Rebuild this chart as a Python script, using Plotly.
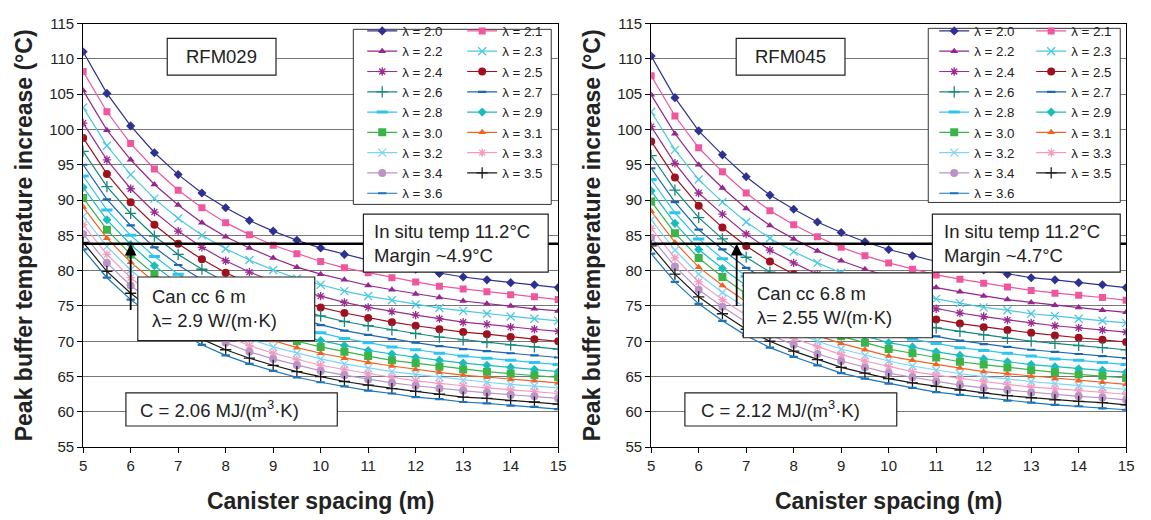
import plotly.graph_objects as go

# Canister spacing (m) at which the peak buffer temperature was evaluated
spacing = [5.0, 5.5, 6.0, 6.5, 7.0, 7.5, 8.0, 8.5, 9.0, 9.5, 10.0,
           10.5, 11.0, 11.5, 12.0, 12.5, 13.0, 13.5, 14.0, 14.5, 15.0]

# Rock thermal conductivity of each curve, W/(m·K)
lambda_labels = ["2.0", "2.1", "2.2", "2.3", "2.4", "2.5", "2.6", "2.7", "2.8",
                 "2.9", "3.0", "3.1", "3.2", "3.3", "3.4", "3.5", "3.6"]

# RFM029 – peak buffer temperature increase (°C)
rfm029_l20 = [111.0, 105.1, 100.5, 96.7, 93.6, 91.0, 88.9, 87.1, 85.6, 84.3, 83.2, 82.3, 81.5, 80.8, 80.2, 79.6, 79.1, 78.7, 78.3, 78.0, 77.6]
rfm029_l21 = [108.2, 102.5, 98.0, 94.4, 91.4, 88.9, 86.8, 85.1, 83.6, 82.4, 81.3, 80.4, 79.7, 79.0, 78.4, 77.8, 77.4, 77.0, 76.6, 76.3, 75.9]
rfm029_l22 = [105.5, 99.9, 95.7, 92.2, 89.3, 86.8, 84.8, 83.2, 81.8, 80.5, 79.5, 78.7, 77.9, 77.3, 76.7, 76.2, 75.7, 75.3, 75.0, 74.6, 74.3]
rfm029_l23 = [103.1, 97.7, 93.6, 90.2, 87.4, 85.0, 83.1, 81.5, 80.1, 78.9, 78.0, 77.1, 76.4, 75.8, 75.2, 74.7, 74.3, 73.9, 73.5, 73.2, 72.9]
rfm029_l24 = [100.9, 95.7, 91.6, 88.3, 85.6, 83.3, 81.4, 79.8, 78.5, 77.3, 76.4, 75.5, 74.8, 74.2, 73.7, 73.2, 72.7, 72.4, 72.0, 71.7, 71.4]
rfm029_l25 = [98.8, 93.7, 89.7, 86.5, 83.8, 81.6, 79.7, 78.2, 76.9, 75.8, 74.8, 74.0, 73.3, 72.7, 72.2, 71.7, 71.3, 71.0, 70.6, 70.3, 70.0]
rfm029_l26 = [96.9, 91.9, 88.1, 84.9, 82.3, 80.2, 78.4, 76.9, 75.6, 74.5, 73.6, 72.8, 72.2, 71.6, 71.1, 70.6, 70.2, 69.8, 69.5, 69.2, 68.9]
rfm029_l27 = [95.0, 90.1, 86.4, 83.3, 80.8, 78.7, 76.9, 75.5, 74.2, 73.2, 72.3, 71.5, 70.9, 70.3, 69.8, 69.3, 68.9, 68.6, 68.3, 68.0, 67.7]
rfm029_l28 = [93.4, 88.6, 85.0, 82.0, 79.5, 77.4, 75.7, 74.3, 73.1, 72.0, 71.2, 70.4, 69.8, 69.2, 68.8, 68.3, 67.9, 67.6, 67.3, 67.0, 66.7]
rfm029_l29 = [91.8, 87.2, 83.7, 80.7, 78.2, 76.2, 74.5, 73.1, 71.9, 70.9, 70.1, 69.4, 68.7, 68.2, 67.7, 67.3, 66.9, 66.6, 66.3, 66.0, 65.7]
rfm029_l30 = [90.3, 85.8, 82.3, 79.5, 77.1, 75.1, 73.5, 72.1, 71.0, 70.0, 69.2, 68.5, 67.9, 67.3, 66.9, 66.4, 66.0, 65.7, 65.4, 65.2, 64.9]
rfm029_l31 = [89.0, 84.6, 81.2, 78.4, 76.1, 74.1, 72.5, 71.2, 70.1, 69.1, 68.3, 67.6, 67.0, 66.5, 66.0, 65.6, 65.2, 64.9, 64.6, 64.4, 64.1]
rfm029_l32 = [87.7, 83.4, 80.1, 77.3, 75.1, 73.2, 71.6, 70.3, 69.2, 68.3, 67.5, 66.8, 66.2, 65.7, 65.3, 64.9, 64.5, 64.2, 63.9, 63.7, 63.4]
rfm029_l33 = [86.5, 82.3, 79.0, 76.3, 74.1, 72.2, 70.7, 69.4, 68.3, 67.4, 66.6, 66.0, 65.4, 64.9, 64.4, 64.0, 63.7, 63.4, 63.1, 62.9, 62.6]
rfm029_l34 = [85.2, 81.1, 77.9, 75.3, 73.1, 71.3, 69.8, 68.5, 67.5, 66.6, 65.8, 65.2, 64.6, 64.1, 63.7, 63.3, 63.0, 62.7, 62.4, 62.2, 61.9]
rfm029_l35 = [84.0, 79.9, 76.8, 74.2, 72.1, 70.3, 68.8, 67.6, 66.6, 65.7, 65.0, 64.3, 63.8, 63.3, 62.9, 62.5, 62.1, 61.9, 61.6, 61.4, 61.1]
rfm029_l36 = [83.0, 79.0, 75.9, 73.4, 71.3, 69.5, 68.0, 66.8, 65.8, 64.9, 64.2, 63.6, 63.0, 62.6, 62.1, 61.8, 61.4, 61.2, 60.9, 60.7, 60.4]

# RFM045 – peak buffer temperature increase (°C)
rfm045_l20 = [110.4, 104.5, 99.8, 96.4, 93.3, 90.7, 88.7, 86.9, 85.4, 84.1, 83.0, 82.1, 81.3, 80.7, 80.1, 79.5, 79.0, 78.7, 78.3, 78.0, 77.6]
rfm045_l21 = [107.6, 101.9, 97.4, 94.0, 91.0, 88.5, 86.5, 84.8, 83.3, 82.1, 81.1, 80.2, 79.4, 78.8, 78.2, 77.7, 77.2, 76.8, 76.5, 76.2, 75.8]
rfm045_l22 = [104.9, 99.4, 95.0, 91.7, 88.8, 86.4, 84.5, 82.8, 81.4, 80.2, 79.2, 78.4, 77.6, 77.0, 76.4, 75.9, 75.5, 75.1, 74.8, 74.4, 74.1]
rfm045_l23 = [102.5, 97.1, 92.9, 89.7, 86.9, 84.6, 82.7, 81.1, 79.7, 78.5, 77.5, 76.7, 76.0, 75.4, 74.8, 74.4, 73.9, 73.6, 73.2, 72.9, 72.6]
rfm045_l24 = [100.4, 95.2, 91.0, 88.0, 85.2, 82.9, 81.1, 79.5, 78.2, 77.1, 76.1, 75.3, 74.6, 74.0, 73.5, 73.0, 72.6, 72.2, 71.9, 71.6, 71.3]
rfm045_l25 = [98.3, 93.2, 89.2, 86.1, 83.5, 81.3, 79.5, 77.9, 76.6, 75.5, 74.6, 73.8, 73.1, 72.5, 72.0, 71.6, 71.2, 70.8, 70.5, 70.2, 69.9]
rfm045_l26 = [96.3, 91.4, 87.5, 84.5, 81.9, 79.8, 78.1, 76.6, 75.3, 74.3, 73.3, 72.6, 71.9, 71.4, 70.9, 70.4, 70.0, 69.7, 69.4, 69.1, 68.8]
rfm045_l27 = [94.5, 89.7, 85.8, 83.0, 80.4, 78.4, 76.7, 75.2, 74.0, 72.9, 72.0, 71.3, 70.7, 70.1, 69.6, 69.2, 68.8, 68.5, 68.2, 67.9, 67.6]
rfm045_l28 = [92.9, 88.2, 84.5, 81.7, 79.2, 77.2, 75.5, 74.1, 72.9, 71.9, 71.0, 70.3, 69.7, 69.1, 68.7, 68.3, 67.9, 67.5, 67.3, 67.0, 66.7]
rfm045_l29 = [91.3, 86.7, 83.0, 80.3, 77.9, 75.9, 74.3, 72.9, 71.7, 70.7, 69.8, 69.2, 68.5, 68.0, 67.5, 67.1, 66.7, 66.4, 66.1, 65.9, 65.6]
rfm045_l30 = [89.8, 85.3, 81.8, 79.1, 76.7, 74.8, 73.2, 71.9, 70.7, 69.8, 68.9, 68.3, 67.7, 67.1, 66.7, 66.3, 65.9, 65.6, 65.3, 65.1, 64.8]
rfm045_l31 = [88.4, 84.0, 80.5, 77.9, 75.6, 73.7, 72.2, 70.8, 69.7, 68.8, 67.9, 67.3, 66.7, 66.2, 65.7, 65.4, 65.0, 64.7, 64.4, 64.2, 63.9]
rfm045_l32 = [87.2, 82.9, 79.5, 76.9, 74.7, 72.8, 71.3, 70.0, 68.9, 68.0, 67.2, 66.5, 65.9, 65.4, 65.0, 64.6, 64.3, 64.0, 63.7, 63.5, 63.2]
rfm045_l33 = [86.0, 81.8, 78.4, 75.9, 73.7, 71.9, 70.4, 69.2, 68.1, 67.2, 66.4, 65.7, 65.2, 64.7, 64.3, 63.9, 63.5, 63.3, 63.0, 62.8, 62.5]
rfm045_l34 = [84.7, 80.6, 77.3, 74.9, 72.7, 70.9, 69.5, 68.2, 67.2, 66.3, 65.5, 64.9, 64.3, 63.8, 63.4, 63.1, 62.7, 62.4, 62.2, 62.0, 61.7]
rfm045_l35 = [83.5, 79.5, 76.3, 73.9, 71.7, 70.0, 68.6, 67.4, 66.3, 65.5, 64.7, 64.1, 63.6, 63.1, 62.7, 62.3, 62.0, 61.7, 61.5, 61.3, 61.0]
rfm045_l36 = [82.4, 78.4, 75.3, 72.9, 70.8, 69.1, 67.8, 66.6, 65.5, 64.7, 64.0, 63.4, 62.8, 62.4, 62.0, 61.6, 61.3, 61.0, 60.8, 60.5, 60.3]

# Design criterion and site data per repository model
panel_names = ["RFM029", "RFM045"]
temp_limit = 95.0                 # °C
in_situ_temp = [11.2, 11.2]       # °C
margin = [4.9, 4.7]               # °C
design_spacing = [6.0, 6.8]       # m
design_lambda = ["2.9", "2.55"]   # W/(m·K)
heat_capacity = ["2.06", "2.12"]  # MJ/(m³·K)
arrow_base = [74.2, 74.8]         # °C

rfm029 = [rfm029_l20, rfm029_l21, rfm029_l22, rfm029_l23, rfm029_l24, rfm029_l25,
          rfm029_l26, rfm029_l27, rfm029_l28, rfm029_l29, rfm029_l30, rfm029_l31,
          rfm029_l32, rfm029_l33, rfm029_l34, rfm029_l35, rfm029_l36]
rfm045 = [rfm045_l20, rfm045_l21, rfm045_l22, rfm045_l23, rfm045_l24, rfm045_l25,
          rfm045_l26, rfm045_l27, rfm045_l28, rfm045_l29, rfm045_l30, rfm045_l31,
          rfm045_l32, rfm045_l33, rfm045_l34, rfm045_l35, rfm045_l36]

# ---- styling -------------------------------------------------------------
colors = ["#2E3192", "#F0569B", "#92278F", "#4CC8E0", "#9B2D92", "#A0101E",
          "#17877C", "#1D67B2", "#2EC4F0", "#1BBCBC", "#39B54A", "#F26322",
          "#7FD3F7", "#F59AC0", "#BB93C6", "#1A1A1A", "#1B75BC"]
symbols = ["diamond", "square", "triangle-up", "x-thin-open", "asterisk-open",
           "circle", "cross-thin-open", "line-ew-open", "line-ew-open", "diamond",
           "square", "triangle-up", "x-thin-open", "asterisk-open", "circle",
           "cross-thin-open", "line-ew-open"]
sizes = [7, 7, 7, 8, 7, 8, 8, 6, 8, 7, 8, 7, 8, 7, 8, 8, 6]
mline = [0, 0, 0, 1.3, 1.3, 0, 1.3, 2.2, 3.0, 0, 0, 0, 1.3, 1.3, 0, 1.3, 2.2]

FONT = "Liberation Sans, Arial, sans-serif"
W, H = 1151, 520
plot_top, plot_bottom = 15, 453
panel_px = [(80, 560), (654, 1134)]

fig = go.Figure()

legend_cols = [("legend", "legend2"), ("legend3", "legend4")]
for p, data in enumerate([rfm029, rfm045]):
    xa = "x" if p == 0 else "x2"
    ya = "y" if p == 0 else "y2"
    for i, (lab, vals) in enumerate(zip(lambda_labels, data)):
        fig.add_trace(go.Scatter(
            x=spacing, y=vals, mode="lines+markers",
            name="\u03bb = " + lab,
            line=dict(color=colors[i], width=1.2),
            marker=dict(symbol=symbols[i], size=sizes[i], color=colors[i],
                        line=dict(color=colors[i], width=mline[i])),
            xaxis=xa, yaxis=ya,
            legend=legend_cols[p][i % 2],
        ))
    # allowable temperature increase = limit - in situ rock temperature
    lim = temp_limit - in_situ_temp[p]
    fig.add_trace(go.Scatter(
        x=[spacing[0], spacing[-1]], y=[lim, lim], mode="lines",
        line=dict(color="black", width=2.6), showlegend=False,
        xaxis=xa, yaxis=ya, hoverinfo="skip"))

axis_common = dict(
    showline=True, linecolor="black", linewidth=1, mirror=True,
    ticks="outside", ticklen=5, tickcolor="black",
    tickfont=dict(family=FONT, size=15, color="#222"),
    title_font=dict(family=FONT, size=23, color="#222"),
)
for p in range(2):
    x0, x1 = panel_px[p]
    sfx = "" if p == 0 else "2"
    fig.layout["xaxis" + sfx] = dict(
        axis_common, domain=[x0 / W, x1 / W], range=[5, 15], dtick=1,
        showgrid=False, zeroline=False, anchor="y" + sfx,
        title=dict(text="<b>Canister spacing (m)</b>", standoff=19),
    )
    fig.layout["yaxis" + sfx] = dict(
        axis_common, domain=[1 - plot_bottom / H, 1 - plot_top / H],
        range=[55, 115], dtick=5, showgrid=True, gridcolor="#777",
        gridwidth=1, zeroline=False, anchor="x" + sfx,
        title=dict(text="<b>Peak buffer temperature increase (°C)</b>", standoff=10),
    )

# legend boxes (two columns each)
legend_boxes = [(353, 553, 21, 202), (934, 1128, 20, 200)]
legend_x = [(362, 463), (940, 1038)]
for p in range(2):
    bx0, bx1, by0, by1 = legend_boxes[p]
    fig.add_shape(type="rect", xref="paper", yref="paper",
                  x0=bx0 / W, x1=bx1 / W, y0=1 - by1 / H, y1=1 - by0 / H,
                  line=dict(color="#333", width=1), fillcolor="white", layer="above")
    for c in range(2):
        fig.layout[legend_cols[p][c]] = dict(
            x=legend_x[p][c] / W, y=1 - 7 / H, xanchor="left", yanchor="top",
            bgcolor="rgba(0,0,0,0)", borderwidth=0, tracegroupgap=0,
            font=dict(family=FONT, size=13.3, color="#222"), itemwidth=30,
        )

# text boxes: (x0, x1, y0, y1, text x, text y, anchor, text)
TXT = dict(family=FONT, size=18.5, color="#222")
boxes = [
    [(6.77, 9.06, 107.7, 112.9, 7.92, 110.3, "center", panel_names[0]),
     (10.9, 14.79, 79.8, 88.0, 11.09, 83.9, "left",
      f"In situ temp {in_situ_temp[0]}°C<br>Margin ~{margin[0]}°C"),
     (6.15, 9.875, 70.1, 79.1, 6.41, 74.6, "left",
      f"Can cc {design_spacing[0]:g} m<br>\u03bb= {design_lambda[0]} W/(m·K)"),
     (5.9, 10.35, 58.0, 62.7, 6.15, 60.35, "left",
      f"C = {heat_capacity[0]} MJ/(m<sup>3</sup>·K)")],
    [(6.79, 9.08, 107.7, 112.9, 7.94, 110.3, "center", panel_names[1]),
     (10.92, 14.875, 79.8, 88.0, 11.125, 83.9, "left",
      f"In situ temp {in_situ_temp[1]}°C<br>Margin ~{margin[1]}°C"),
     (6.94, 10.92, 70.5, 79.7, 7.19, 75.1, "left",
      f"Can cc {design_spacing[1]:g} m<br>\u03bb= {design_lambda[1]} W/(m·K)"),
     (5.71, 10.17, 58.0, 62.7, 6.01, 60.35, "left",
      f"C = {heat_capacity[1]} MJ/(m<sup>3</sup>·K)")],
]
for p in range(2):
    xr = "x" if p == 0 else "x2"
    yr = "y" if p == 0 else "y2"
    for (x0, x1, y0, y1, tx, ty, anc, txt) in boxes[p]:
        fig.add_shape(type="rect", xref=xr, yref=yr, x0=x0, x1=x1, y0=y0, y1=y1,
                      line=dict(color="#222", width=1.2), fillcolor="white",
                      layer="above")
        fig.add_annotation(x=tx, y=ty, xref=xr, yref=yr, text=txt,
                           showarrow=False, xanchor=anc, yanchor="middle",
                           align="left", font=TXT)
    # arrow pointing up to the chosen design spacing
    fig.add_annotation(x=design_spacing[p], y=temp_limit - in_situ_temp[p],
                       ax=design_spacing[p], ay=arrow_base[p],
                       xref=xr, yref=yr, axref=xr, ayref=yr, text="",
                       showarrow=True, arrowhead=2, arrowsize=1.3,
                       arrowwidth=1.8, arrowcolor="black", standoff=0)

fig.update_layout(
    width=W, height=H, margin=dict(l=0, r=0, t=0, b=0),
    paper_bgcolor="white", plot_bgcolor="white",
    font=dict(family=FONT, color="#222"),
)

fig.write_html("out.html")
